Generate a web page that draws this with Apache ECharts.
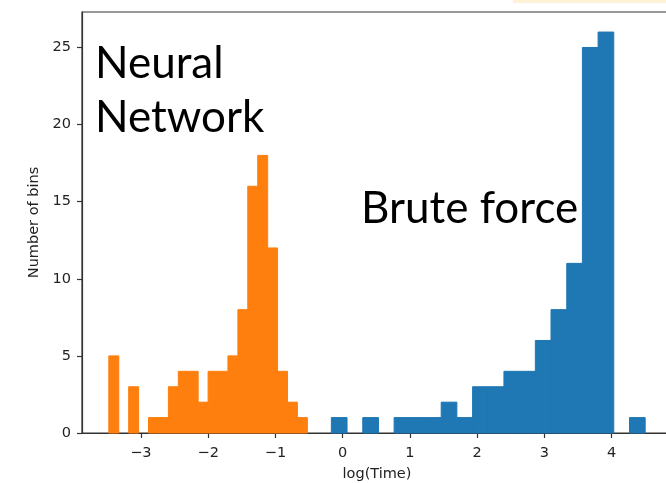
<!DOCTYPE html>
<html>
<head>
<meta charset="utf-8">
<script src="https://cdn.jsdelivr.net/npm/echarts@6/dist/echarts.min.js"></script>
<style>
  html, body { margin: 0; padding: 0; background: #fff; }
  #chart { width: 666px; height: 483px; }
</style>
</head>
<body>
<div id="chart"></div>
<script>
// Histogram bin edges (log10 of run time) and counts per bin
const nnEdges = [-3.477, -3.329, -3.182, -3.034, -2.887, -2.739, -2.591, -2.444, -2.296, -2.149,
                 -2.001, -1.853, -1.706, -1.558, -1.411, -1.263, -1.115, -0.968, -0.820, -0.673, -0.525];
const nnCounts = [5, 0, 3, 0, 1, 1, 3, 4, 4, 2, 4, 4, 5, 8, 16, 18, 12, 4, 2, 1];

const bfEdges = [-0.168, 0.065, 0.299, 0.532, 0.765, 0.999, 1.232, 1.465, 1.698, 1.932,
                 2.165, 2.398, 2.632, 2.865, 3.098, 3.332, 3.565, 3.798, 4.031, 4.265, 4.498];
const bfCounts = [1, 0, 1, 0, 1, 1, 1, 2, 1, 3, 3, 4, 4, 6, 8, 11, 25, 26, 0, 1];

const xTicks = [-3, -2, -1, 0, 1, 2, 3, 4];
const yTicks = [0, 5, 10, 15, 20, 25];

const xLabel = 'log(Time)';
const yLabel = 'Number of bins';
const nnText = ['Neural', 'Network'];
const bfText = 'Brute force';

function bins(edges, counts) {
  const out = [];
  for (let i = 0; i < counts.length; i++) {
    if (counts[i] > 0) out.push([edges[i], edges[i + 1], counts[i]]);
  }
  return out;
}

function histSeries(name, data, color) {
  return {
    name: name,
    type: 'custom',
    data: data,
    encode: { x: [0, 1], y: 2 },
    renderItem: function (params, api) {
      const top = api.coord([api.value(0), api.value(2)]);
      const bot = api.coord([api.value(1), 0]);
      return {
        type: 'rect',
        shape: { x: top[0], y: top[1], width: bot[0] - top[0], height: bot[1] - top[1] },
        style: { fill: color, stroke: color, lineWidth: 1 }
      };
    }
  };
}

const tickFont = { fontFamily: 'DejaVu Sans', fontSize: 14.5, color: '#222' };
const fmt = v => (v < 0 ? '\u2212' + Math.abs(v) : String(v));

const chart = echarts.init(document.getElementById('chart'), null, { renderer: 'canvas' });
chart.setOption({
  backgroundColor: '#fff',
  animation: false,
  grid: {
    left: 82, top: 12, width: 590, height: 421,
    outerBoundsMode: 'none',
    show: true, borderColor: '#333', borderWidth: 1.2, backgroundColor: 'transparent'
  },
  xAxis: {
    type: 'value',
    min: -3.876, max: 4.897,
    splitLine: { show: false },
    axisLine: { show: true, onZero: false, lineStyle: { color: '#333', width: 1.2 } },
    axisTick: { show: true, length: 5, customValues: xTicks, lineStyle: { color: '#333', width: 1.2 } },
    axisLabel: Object.assign({ margin: 13, customValues: xTicks, formatter: fmt }, tickFont),
    name: xLabel,
    nameLocation: 'middle',
    nameGap: 34,
    nameTextStyle: tickFont
  },
  yAxis: {
    type: 'value',
    min: 0, max: 27.3,
    splitLine: { show: false },
    axisLine: { show: true, onZero: false, lineStyle: { color: '#333', width: 1.2 } },
    axisTick: { show: true, length: 5, customValues: yTicks, lineStyle: { color: '#333', width: 1.2 } },
    axisLabel: Object.assign({ margin: 11, customValues: yTicks }, tickFont),
    name: yLabel,
    nameLocation: 'middle',
    nameGap: 40,
    nameTextStyle: tickFont
  },
  series: [
    histSeries('Brute force', bins(bfEdges, bfCounts), '#1f77b4'),
    histSeries('Neural Network', bins(nnEdges, nnCounts), '#ff7f0e')
  ],
  graphic: [
    { type: 'rect', left: 513, top: 0, shape: { width: 153, height: 3 }, style: { fill: '#fdf1d6' }, silent: true },
    { type: 'text', x: 95, y: 64, style: { text: nnText[0], font: '44px Lato', fill: '#000', verticalAlign: 'middle' } },
    { type: 'text', x: 95, y: 118, style: { text: nnText[1], font: '44px Lato', fill: '#000', verticalAlign: 'middle' } },
    { type: 'text', x: 361, y: 209, style: { text: bfText, font: '44px Lato', fill: '#000', verticalAlign: 'middle' } }
  ]
});
</script>
</body>
</html>
